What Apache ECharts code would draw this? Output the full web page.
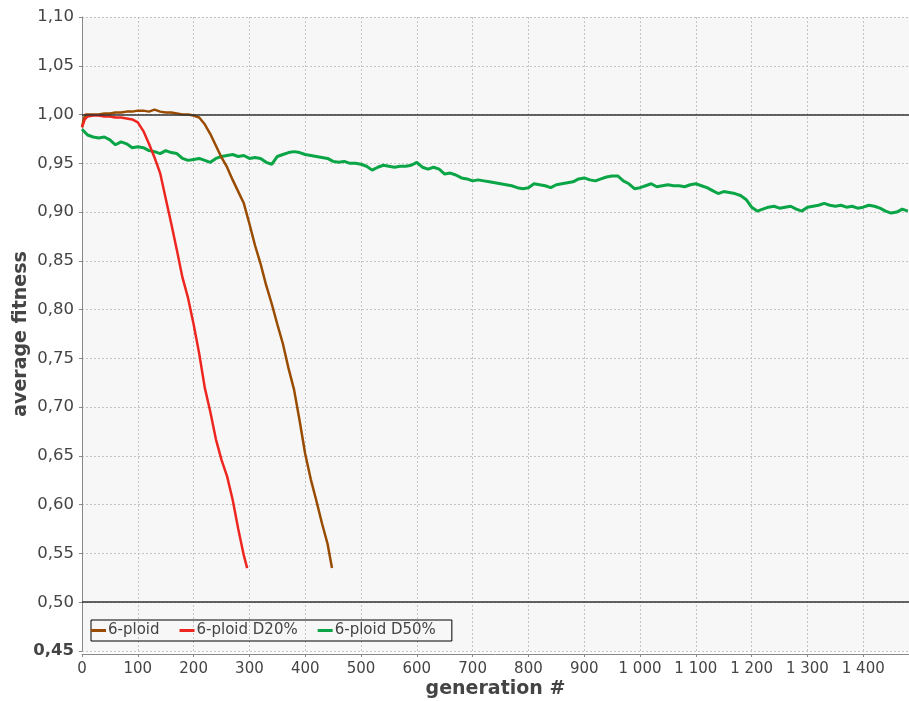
<!DOCTYPE html>
<html>
<head>
<meta charset="utf-8">
<script src="https://cdn.jsdelivr.net/npm/echarts@6/dist/echarts.min.js"></script>
<style>
html,body{margin:0;padding:0;background:#fff;}
#chart{width:909px;height:701px;}
</style>
</head>
<body>
<div id="chart"></div>
<script>
// ---- data ----
const seriesNames = ['6-ploid', '6-ploid D20%', '6-ploid D50%'];

const ploidGen = [0,3,6,20,30,40,50,60,70,80,90,100,110,120,130,140,150,160,170,180,190,200,210,220,230,240,250,260,270,280,290,300,310,320,330,340,350,360,370,380,390,400,410,420,430,440,448];
const ploidFit = [0.987,0.995,1.000,1.000,1.000,1.001,1.001,1.002,1.002,1.003,1.003,1.004,1.004,1.003,1.005,1.003,1.002,1.002,1.001,1.000,1.000,0.999,0.997,0.990,0.980,0.968,0.956,0.946,0.933,0.921,0.909,0.888,0.866,0.847,0.825,0.806,0.785,0.765,0.740,0.718,0.686,0.652,0.626,0.604,0.581,0.560,0.535];

const d20Gen = [0,5,10,20,30,40,50,60,70,80,90,100,110,120,130,140,150,160,170,180,190,200,210,220,230,240,250,260,270,280,290,296];
const d20Fit = [0.987,0.995,0.998,0.999,0.999,0.998,0.998,0.997,0.997,0.996,0.995,0.992,0.983,0.970,0.956,0.940,0.914,0.888,0.861,0.833,0.812,0.785,0.755,0.720,0.695,0.667,0.646,0.629,0.605,0.575,0.548,0.535];

const d50Gen = [0,10,20,30,40,50,60,70,80,90,100,110,120,130,140,150,160,170,180,190,200,210,220,230,240,250,260,270,280,290,300,310,320,330,340,350,360,370,380,390,400,410,420,430,440,450,460,470,480,490,500,510,520,530,540,550,560,570,580,590,600,610,620,630,640,650,660,670,680,690,700,710,720,730,740,750,760,770,780,790,800,810,820,830,840,850,860,870,880,890,900,910,920,930,940,950,960,970,980,990,1000,1010,1020,1030,1040,1050,1060,1070,1080,1090,1100,1110,1120,1130,1140,1150,1160,1170,1180,1190,1200,1210,1220,1230,1240,1250,1260,1270,1280,1290,1300,1310,1320,1330,1340,1350,1360,1370,1380,1390,1400,1410,1420,1430,1440,1450,1460,1470,1480];
const d50Fit = [0.985,0.979,0.977,0.976,0.977,0.974,0.969,0.972,0.970,0.966,0.967,0.966,0.963,0.962,0.960,0.963,0.961,0.960,0.955,0.953,0.954,0.955,0.953,0.951,0.955,0.957,0.958,0.959,0.957,0.958,0.955,0.956,0.955,0.951,0.949,0.957,0.959,0.961,0.962,0.961,0.959,0.958,0.957,0.956,0.955,0.952,0.951,0.952,0.950,0.950,0.949,0.947,0.943,0.946,0.948,0.947,0.946,0.947,0.947,0.948,0.951,0.946,0.944,0.946,0.944,0.939,0.940,0.938,0.935,0.934,0.932,0.933,0.932,0.931,0.930,0.929,0.928,0.927,0.925,0.924,0.925,0.929,0.928,0.927,0.925,0.928,0.929,0.930,0.931,0.934,0.935,0.933,0.932,0.934,0.936,0.937,0.937,0.932,0.929,0.924,0.925,0.927,0.929,0.926,0.927,0.928,0.927,0.927,0.926,0.928,0.929,0.927,0.925,0.922,0.919,0.921,0.920,0.919,0.917,0.913,0.905,0.901,0.903,0.905,0.906,0.904,0.905,0.906,0.903,0.901,0.905,0.906,0.907,0.909,0.907,0.906,0.907,0.905,0.906,0.904,0.905,0.907,0.906,0.904,0.901,0.899,0.900,0.903,0.901];

const referenceLevels = [1.00, 0.50];
const xMin = 0, xMax = 1482, xStep = 100;
const yMin = 0.45, yMax = 1.10, yStep = 0.05;

// ---- chart ----
function zip(a, b) { return a.map((v, i) => [v, b[i]]); }
const colors = {'6-ploid': '#994c00', '6-ploid D20%': '#ee2620', '6-ploid D50%': '#0aa546'};
const font = 'DejaVu Sans';

const chart = echarts.init(document.getElementById('chart'), null, {renderer: 'canvas'});
chart.setOption({
  animation: false,
  backgroundColor: '#ffffff',
  grid: {
    left: 82, top: 17, right: 0, bottom: 50,
    containLabel: false, outerBoundsMode: 'none',
    show: true, backgroundColor: '#f7f7f7', borderWidth: 0
  },
  legend: {
    left: 91, top: 620, orient: 'horizontal',
    icon: 'rect', itemWidth: 15, itemHeight: 3, itemGap: 20,
    padding: [3, 16, 3, 0],
    borderColor: '#000', borderWidth: 1, backgroundColor: 'rgba(0,0,0,0)',
    textStyle: {fontFamily: font, fontSize: 15, color: '#444', padding: [0, 0, 0, -3]},
    data: seriesNames
  },
  xAxis: {
    type: 'value', min: xMin, max: xMax, interval: xStep,
    offset: 3,
    name: 'generation #', nameLocation: 'middle', nameGap: 26, nameMoveOverlap: false,
    nameTextStyle: {fontFamily: font, fontSize: 19, fontWeight: 'bold', color: '#444'},
    axisLine: {show: true, lineStyle: {color: '#888', width: 1}},
    axisTick: {show: true, length: 3, lineStyle: {color: '#888'}},
    axisLabel: {
      fontFamily: font, fontSize: 15, color: '#444', margin: 8,
      showMaxLabel: false,
      formatter: v => String(v).replace(/\B(?=(\d{3})+(?!\d))/g, ' ')
    },
    splitLine: {show: true, lineStyle: {color: '#c4c4c4', type: [2, 2], width: 1}}
  },
  yAxis: {
    type: 'value', min: yMin, max: yMax, interval: yStep,
    offset: 2,
    name: 'average fitness', nameLocation: 'middle', nameGap: 49, nameMoveOverlap: false,
    nameTextStyle: {fontFamily: font, fontSize: 19, fontWeight: 'bold', color: '#444'},
    axisLine: {show: true, lineStyle: {color: '#888', width: 1}},
    axisTick: {show: true, length: 3, lineStyle: {color: '#888'}},
    axisLabel: {
      fontFamily: font, fontSize: 16.5, color: '#444', margin: 6,
      formatter: v => {
        const s = v.toFixed(2).replace('.', ',');
        return Math.abs(v - yMin) < 1e-9 ? '{b|' + s + '}' : s;
      },
      rich: {b: {fontFamily: font, fontSize: 16.5, fontWeight: 'bold', color: '#444'}}
    },
    splitLine: {show: true, lineStyle: {color: '#c4c4c4', type: [2, 2], width: 1}}
  },
  series: [
    {
      name: seriesNames[2], type: 'line', data: zip(d50Gen, d50Fit),
      showSymbol: false, symbol: 'none',
      itemStyle: {color: colors[seriesNames[2]]},
      lineStyle: {width: 3, color: colors[seriesNames[2]]}, z: 2
    },
    {
      name: seriesNames[0], type: 'line', data: zip(ploidGen, ploidFit),
      showSymbol: false, symbol: 'none',
      itemStyle: {color: colors[seriesNames[0]]},
      lineStyle: {width: 2.5, color: colors[seriesNames[0]]}, z: 3,
      markLine: {
        silent: true, symbol: 'none', label: {show: false},
        lineStyle: {color: '#333', width: 1.5, type: 'solid'},
        data: referenceLevels.map(v => ({yAxis: v}))
      }
    },
    {
      name: seriesNames[1], type: 'line', data: zip(d20Gen, d20Fit),
      showSymbol: false, symbol: 'none',
      itemStyle: {color: colors[seriesNames[1]]},
      lineStyle: {width: 2.5, color: colors[seriesNames[1]]}, z: 3
    }
  ]
});
</script>
</body>
</html>
